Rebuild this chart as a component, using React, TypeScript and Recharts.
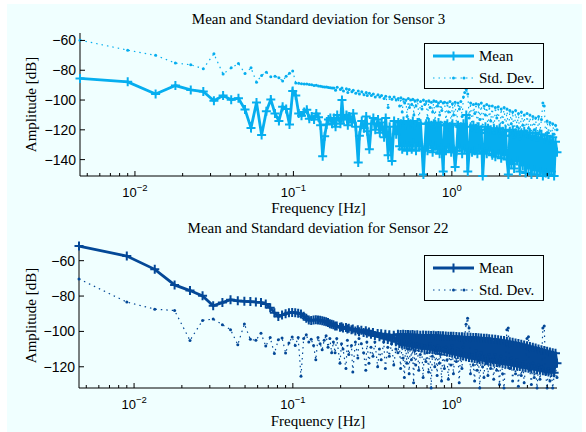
import React from 'react';
import { LineChart, Line, XAxis, YAxis, Legend } from 'recharts';

// frequency bin spacing [Hz]; points sit at k * DF
const DF = 0.0045;
const F_MIN = DF;
const F_MAX = 1024 * DF;

const BINS = [
  1, 2, 3, 4, 5, 6, 7, 8, 9, 10, 11, 12, 13, 14, 15, 16, 17, 18, 19, 20,
  21, 22, 23, 24, 25, 26, 27, 28, 29, 30, 31, 32, 33, 34, 35, 36, 37, 38, 39,
  40, 41, 42, 44, 45, 46, 48, 49, 50, 52, 53, 55, 57, 58, 60, 62, 64, 65, 67, 69,
  71, 73, 76, 78, 80, 83, 85, 88, 90, 93, 96, 99,
  102, 104, 106, 108, 110, 112, 114, 116, 118, 120, 122, 124, 126, 128, 130, 132, 135, 138, 141, 144,
  147, 150, 153, 156, 159, 162, 165, 168, 171, 174, 177, 180, 183, 186, 189, 192, 196,
  200, 204, 208, 212, 216, 220, 224, 228, 233, 238, 243, 248, 253, 258, 263, 268, 274, 280, 286, 292,
  298, 304, 310, 316, 322, 328, 334, 341, 348, 355, 362, 369, 376, 383, 391,
  400, 409, 418, 427, 436, 445, 455, 465, 475, 485, 495, 505, 516, 527, 538, 549, 561, 573, 585, 597,
  610, 623, 636, 649, 663, 677, 691, 706, 721, 736, 751, 767, 783, 800, 817, 834, 851, 869, 887, 905,
  924, 943, 962, 982, 1002, 1024,
];

// Sensor 3
const S3_MEAN = [
  -85.5, -87.8, -96, -90.3, -93.2, -94.3, -100.5, -97, -99.8, -98.8,
  -106.4, -118.7, -101.7, -123.5, -107.5, -99.7, -109, -114, -104.5, -106,
  -116.5, -94, -97, -109, -110.5, -108, -106.5, -112.5, -111, -113,
  -109, -111.5, -117, -137.8, -124.3, -116.5, -113, -112, -116,
  -112, -118, -110, -116, -100, -113, -110, -117, -111, -115,
  -109, -118, -142, -124, -114, -119, -111, -121, -133, -116,
  -112, -120, -113, -122, -115, -125, -112, -137, -118, -141,
  -114, -123,
  -115, -131, -116, -133, -114, -130, -117, -134, -115, -131,
  -116, -133, -114, -129, -117, -134, -115, -131, -116, -133,
  -150, -132, -116, -134, -115, -130, -117, -135, -116, -131,
  -118, -133, -115, -136, -117, -132, -148,
  -117, -134, -116, -132, -118, -135, -116, -133, -145, -134,
  -117, -132, -118, -136, -116, -133, -110, -148, -134, -118,
  -135, -117, -134, -119, -136, -118, -133, -120, -151, -135,
  -118, -136, -119, -134, -120,
  -137, -119, -138, -120, -136, -119, -139, -121, -137, -120,
  -140, -150, -121, -143, -120, -146, -122, -141, -121, -148,
  -122, -144, -121, -149, -123, -146, -122, -150, -124, -147,
  -122, -150, -125, -148, -123, -151, -126, -149, -124, -150,
  -127, -148, -125, -151, -128, -135,
];
const S3_STD = [
  -59.8, -66.5, -70, -75.2, -76.3, -79, -69, -82.6, -78.4, -75.5,
  -82.2, -78.4, -88, -83.5, -81.3, -84.4, -84, -85, -87.3, -84,
  -82, -80.5, -88.5, -88.8, -89, -89.3, -89.2, -89.6, -89.8, -90.2,
  -90, -90.5, -90.8, -91, -91.3, -91.2, -91.6, -91.8, -92,
  -92, -93.5, -91.5, -93, -92, -94, -92.5, -95, -93, -94.5,
  -93.5, -95.5, -94, -96, -94.5, -96.5, -95, -97, -95.5, -97,
  -96, -98, -96.5, -98, -97, -99, -97.5, -105, -98, -99.5,
  -98, -100,
  -99, -104, -98.5, -108, -99.5, -102, -100, -111, -99, -105,
  -100, -103, -99.5, -110, -100.5, -104, -100, -113, -101, -106,
  -100, -103, -101, -112, -100.5, -105, -101.5, -108, -100.5, -114,
  -101, -104, -102, -110, -101, -107, -102,
  -101.5, -115, -102, -108, -101, -117, -102.5, -110, -101.5, -118,
  -102, -106, -101, -111, -98, -95, -93, -96, -112, -102,
  -120, -103, -109, -102.5, -121, -103, -113, -102, -122, -104,
  -110, -103, -123, -104, -114,
  -104, -122, -105, -112, -104.5, -124, -106, -115, -105, -121,
  -106, -124, -107, -116, -108, -125, -107, -118, -109, -126,
  -108, -117, -110, -124, -109, -119, -110, -126, -111, -120,
  -112, -127, -111, -121, -113, -102, -104, -126, -114, -122,
  -115, -128, -116, -123, -117, -120,
];

// Sensor 22
const S22_MEAN = [
  -51.7, -57.4, -64.9, -73.7, -76.9, -79.9, -85.5, -83.7, -82.1, -82.7,
  -83, -83.1, -83.4, -83.6, -84.5, -86.6, -89.4, -91.6, -90.7, -90,
  -89.4, -89.3, -89.4, -89.7, -90.1, -91.4, -92.6, -93.6, -93.8, -93.6,
  -93.4, -93.5, -93.7, -94, -94.3, -94.5, -95, -95.6, -96,
  -96.3, -96.9, -97, -97.6, -97.3, -98.1, -97.8, -98.6, -98.2, -99.1,
  -98.6, -99.8, -99, -100.2, -99.3, -100.6, -99.6, -101, -100.3, -101.6,
  -100.6, -102.3, -101.2, -103, -101.3, -104, -101.6, -104.6, -101.9, -105.2,
  -102.1, -105.8,
  -101.6, -106.8, -101.7, -107.2, -101.6, -107.5, -101.8, -107.8, -101.7, -108.1,
  -101.9, -108.3, -101.8, -108.6, -102, -108.8, -101.9, -109.1, -102.1, -109.3,
  -102, -109.6, -102.2, -109.8, -102.1, -110, -102.3, -110.2, -102.2, -110.4,
  -102.4, -110.6, -102.3, -110.8, -102.5, -111, -102.4,
  -111.2, -102.6, -111.6, -102.7, -111.9, -102.8, -112.3, -102.8, -112.7, -102.9,
  -113.1, -103, -113.5, -103, -113.9, -103.1, -114.3, -103.2, -114.7, -103.3,
  -115, -103.4, -115.3, -103.5, -115.6, -103.6, -115.9, -103.7, -116.2, -103.8,
  -116.4, -103.9, -116.7, -104.1, -117,
  -104.3, -117.4, -104.5, -117.6, -104.7, -117.9, -105, -118.1, -105.2, -118.4,
  -105.5, -118.7, -105.8, -119, -106.1, -119.3, -106.5, -119.6, -106.9, -119.9,
  -107.3, -120.2, -107.7, -120.5, -108.1, -120.8, -108.5, -121.1, -109, -121.4,
  -109.4, -121.7, -109.9, -122, -110.3, -122.3, -110.8, -122.6, -111.2, -122.9,
  -111.6, -123.2, -112, -123.4, -112.3, -118,
];
const S22_STD = [
  -70.3, -83.4, -87.4, -88.2, -105.1, -93.8, -93, -96.2, -99, -107.5,
  -95.8, -104.5, -105, -101, -108.3, -103.5, -112.5, -104.7, -103.7, -112.2,
  -106.5, -103.2, -108, -103.5, -125.4, -104, -101.9, -106, -104.5, -108,
  -116, -103.5, -107, -110.3, -105, -102.5, -109, -104, -112,
  -106, -112, -104, -118, -107, -110, -121, -105, -113, -108,
  -123, -106, -115, -104, -107, -112, -122, -106, -118, -109,
  -114, -106, -120, -110, -116, -106, -121, -109, -114, -107,
  -119, -110,
  -112, -106, -121, -108, -115, -126, -107, -118, -110, -124,
  -106, -116, -109, -129, -111, -119, -107, -122, -113, -110,
  -126, -108, -117, -112, -123, -107, -132, -114, -109, -120,
  -111, -125, -108, -118, -113, -128, -110,
  -121, -109, -116, -127, -111, -119, -108, -124, -113, -117,
  -110, -129, -112, -121, -109, -104, -96, -92.5, -98, -124,
  -113, -119, -128, -111, -122, -115, -132, -112, -120, -126,
  -114, -118, -125, -113, -121,
  -116, -127, -113, -122, -118, -130, -114, -124, -132, -117,
  -99, -98, -121, -115, -128, -119, -124, -116, -131, -118,
  -125, -117, -129, -120, -104, -103, -122, -130, -118, -126,
  -121, -132, -119, -127, -120, -98, -97, -124, -132, -121,
  -128, -122, -132, -125, -120, -126,
];

const X_MAJOR = [0.01, 0.1, 1];
const X_MINOR = [
  0.005, 0.006, 0.007, 0.008, 0.009,
  0.02, 0.03, 0.04, 0.05, 0.06, 0.07, 0.08, 0.09,
  0.2, 0.3, 0.4, 0.5, 0.6, 0.7, 0.8, 0.9,
  2, 3, 4,
];
const X_TICKS = [...X_MINOR, ...X_MAJOR].sort((a, b) => a - b);
const S3_Y_TICKS = [-140, -120, -100, -80, -60];
const S22_Y_TICKS = [-120, -100, -80, -60];

const BG = '#f0ffff';
const LIGHT = '#06aeef';
const DARK = '#044897';
const SERIF = '"Liberation Serif", "Times New Roman", serif';
const SANS = '"Liberation Sans", Arial, Helvetica, sans-serif';

const s3Data = BINS.map((k, i) => ({ f: k * DF, mean: S3_MEAN[i], std: S3_STD[i] }));
const s22Data = BINS.map((k, i) => ({ f: k * DF, mean: S22_MEAN[i], std: S22_STD[i] }));

const minus = (v: number) => (v < 0 ? '\u2212' + Math.abs(v) : String(v));

const BottomTick = ({ x, y, payload }: any) => {
  const v = payload.value;
  const major = X_MAJOR.includes(v);
  const e = Math.round(Math.log10(v));
  return (
    <g>
      <line x1={x} x2={x} y1={y} y2={y - (major ? 5 : 3)} stroke="#000" />
      {major && (
        <text x={x} y={y + 21} textAnchor="middle" fontFamily={SANS} fontSize={13} fill="#000">
          10<tspan dy={-6} fontSize={9.5}>{minus(e)}</tspan>
        </text>
      )}
    </g>
  );
};

const TopTick = ({ x, y, payload }: any) => {
  const major = X_MAJOR.includes(payload.value);
  return <line x1={x} x2={x} y1={y} y2={y + (major ? 5 : 3)} stroke="#000" />;
};

const LeftTick = ({ x, y, payload }: any) => (
  <g>
    <line x1={x} x2={x + 5} y1={y} y2={y} stroke="#000" />
    <text x={x - 4} y={y} dy={5} textAnchor="end" fontFamily={SANS} fontSize={14} fill="#000">
      {minus(payload.value)}
    </text>
  </g>
);

const RightTick = ({ x, y }: any) => <line x1={x} x2={x - 5} y1={y} y2={y} stroke="#000" />;

const plusDot = (color: string) => (p: any) => {
  if (p.cx == null || p.cy == null) return <g key={'m' + p.index} />;
  return (
    <path
      key={'m' + p.index}
      d={`M${p.cx - 4.5},${p.cy}h9M${p.cx},${p.cy - 4.5}v9`}
      stroke={color}
      strokeWidth={2}
      fill="none"
    />
  );
};

const smallDot = (color: string) => (p: any) => {
  if (p.cx == null || p.cy == null) return <g key={'d' + p.index} />;
  return <circle key={'d' + p.index} cx={p.cx} cy={p.cy} r={1.5} fill={color} />;
};

const legendBox = (color: string) => () => (
  <svg width={120} height={46} style={{ display: 'block' }}>
    <rect x={0.5} y={0.5} width={119} height={45} fill={BG} stroke="#000" />
    <line x1={9} x2={50} y1={13} y2={13} stroke={color} strokeWidth={2.8} />
    <path d="M25,13h9M29.5,8.5v9" stroke={color} strokeWidth={2} />
    <text x={55} y={18} fontFamily={SERIF} fontSize={15} fill="#000">Mean</text>
    <line x1={9} x2={50} y1={35} y2={35} stroke={color} strokeWidth={1.2} strokeDasharray="1.5 4" />
    <circle cx={29.5} cy={35} r={1.5} fill={color} />
    <circle cx={40} cy={35} r={1.5} fill={color} />
    <text x={55} y={40} fontFamily={SERIF} fontSize={15} fill="#000">Std. Dev.</text>
  </svg>
);

type PanelProps = {
  data: any[];
  color: string;
  yDomain: [number, number];
  yTicks: number[];
  top: number;
  bottom: number;
  left: number;
  legendTop: number;
};

function Panel({ data, color, yDomain, yTicks, top, bottom, left, legendTop }: PanelProps) {
  return (
    <LineChart width={586} height={216} data={data} margin={{ top, right: 29, bottom, left: left - 50 }}>
      <XAxis
        dataKey="f"
        type="number"
        scale="log"
        domain={[F_MIN, F_MAX]}
        ticks={X_TICKS}
        interval={0}
        tickLine={false}
        tickSize={0}
        tickMargin={0}
        tick={<BottomTick />}
        height={30}
        axisLine={{ stroke: '#000' }}
      />
      <XAxis
        xAxisId="top"
        orientation="top"
        dataKey="f"
        type="number"
        scale="log"
        domain={[F_MIN, F_MAX]}
        ticks={X_TICKS}
        interval={0}
        tickLine={false}
        tickSize={0}
        tickMargin={0}
        tick={<TopTick />}
        height={0}
        axisLine={{ stroke: '#000' }}
      />
      <YAxis
        type="number"
        domain={yDomain}
        ticks={yTicks}
        interval={0}
        tickLine={false}
        tickSize={0}
        tickMargin={0}
        tick={<LeftTick />}
        width={50}
        axisLine={{ stroke: '#000' }}
      />
      <YAxis
        yAxisId="right"
        orientation="right"
        type="number"
        domain={yDomain}
        ticks={yTicks}
        interval={0}
        tickLine={false}
        tickSize={0}
        tickMargin={0}
        tick={<RightTick />}
        width={0}
        axisLine={{ stroke: '#000' }}
      />
      <Line
        type="linear"
        dataKey="mean"
        name="Mean"
        stroke={color}
        strokeWidth={2.8}
        dot={plusDot(color)}
        activeDot={false}
        isAnimationActive={false}
      />
      <Line
        type="linear"
        dataKey="std"
        name="Std. Dev."
        stroke={color}
        strokeWidth={1.2}
        strokeDasharray="1.5 4"
        dot={smallDot(color)}
        activeDot={false}
        isAnimationActive={false}
      />
      <Legend
        layout="vertical"
        align="center"
        verticalAlign="middle"
        content={legendBox(color)}
        wrapperStyle={{ left: 424, top: legendTop, width: 120, height: 46 }}
      />
    </LineChart>
  );
}

export default function App() {
  const textStyle = { fontFamily: SERIF, fontSize: 15, fill: '#000' };
  return (
    <div style={{ position: 'absolute', left: 0, top: 0, width: 586, height: 432, background: '#fff' }}>
      <div style={{ position: 'absolute', left: 7, top: 4, width: 575, height: 428, background: BG }} />
      <div style={{ position: 'absolute', left: 0, top: 0 }}>
        <Panel data={s3Data} color={LIGHT} yDomain={[-151, -55]} yTicks={S3_Y_TICKS}
          top={33} bottom={10} left={80} legendTop={43} />
      </div>
      <div style={{ position: 'absolute', left: 0, top: 216 }}>
        <Panel data={s22Data} color={DARK} yDomain={[-132, -50]} yTicks={S22_Y_TICKS}
          top={27} bottom={14} left={79} legendTop={39} />
      </div>
      <svg width={586} height={432} style={{ position: 'absolute', left: 0, top: 0, pointerEvents: 'none' }}>
        <text x={318.5} y={23.5} textAnchor="middle" {...textStyle}>Mean and Standard deviation for Sensor 3</text>
        <text x={318.5} y={213} textAnchor="middle" {...textStyle}>Frequency [Hz]</text>
        <text x={36} y={104.5} textAnchor="middle" transform="rotate(-90 36 104.5)" {...textStyle}>Amplitude [dB]</text>
        <text x={318} y={233} textAnchor="middle" {...textStyle}>Mean and Standard deviation for Sensor 22</text>
        <text x={318} y={426} textAnchor="middle" {...textStyle}>Frequency [Hz]</text>
        <text x={36} y={315.5} textAnchor="middle" transform="rotate(-90 36 315.5)" {...textStyle}>Amplitude [dB]</text>
      </svg>
    </div>
  );
}
